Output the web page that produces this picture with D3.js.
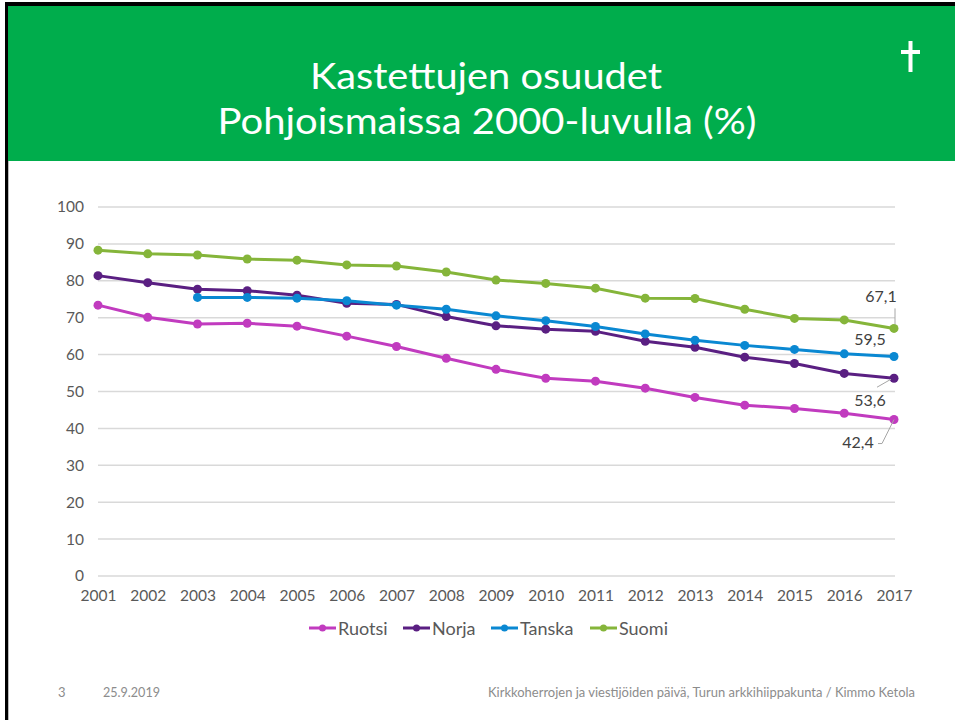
<!DOCTYPE html>
<html>
<head>
<meta charset="utf-8">
<script src="https://cdn.jsdelivr.net/npm/d3@7"></script>
<style>
  body { margin: 0; background: #fff; }
  svg { display: block; font-family: Lato, "Open Sans", sans-serif; }
</style>
</head>
<body>
<div id="slide"></div>
<script>
// data
const years = [2001, 2002, 2003, 2004, 2005, 2006, 2007, 2008, 2009, 2010, 2011, 2012, 2013, 2014, 2015, 2016, 2017];
const ruotsi = [73.4, 70.1, 68.3, 68.5, 67.7, 65.0, 62.2, 59.0, 56.0, 53.6, 52.8, 50.9, 48.4, 46.3, 45.4, 44.1, 42.4];
const norja  = [81.4, 79.5, 77.7, 77.3, 76.1, 73.9, 73.6, 70.3, 67.8, 66.9, 66.3, 63.6, 62.0, 59.3, 57.6, 54.9, 53.6];
const tanska = [null, null, 75.5, 75.5, 75.3, 74.6, 73.4, 72.3, 70.5, 69.2, 67.6, 65.6, 63.9, 62.5, 61.4, 60.2, 59.5];
const suomi  = [88.3, 87.3, 87.0, 85.9, 85.6, 84.3, 84.0, 82.4, 80.2, 79.3, 78.0, 75.3, 75.2, 72.3, 69.8, 69.4, 67.1];
const seriesNames = ["Ruotsi", "Norja", "Tanska", "Suomi"];
const colors = ["#c13bbf", "#5a1f82", "#0a88d2", "#85b53a"];
const yTicks = [0, 10, 20, 30, 40, 50, 60, 70, 80, 90, 100];
const titleLines = ["Kastettujen osuudet", "Pohjoismaissa 2000-luvulla (%)"];

const series = [ruotsi, norja, tanska, suomi].map((vals, i) => ({
    name: seriesNames[i],
    color: colors[i],
    values: years.map((yr, j) => ({ year: yr, v: vals[j] }))
}));

const W = 955, H = 720;
const svg = d3.select("#slide").append("svg").attr("width", W).attr("height", H);

// slide frame + header
svg.append("rect").attr("x", 5).attr("y", 2).attr("width", W - 5).attr("height", 4).attr("fill", "#000");
svg.append("rect").attr("x", 5).attr("y", 2).attr("width", 3).attr("height", H).attr("fill", "#000");
svg.append("rect").attr("x", 8).attr("y", 161).attr("width", 1).attr("height", H).attr("fill", "#bbb");
svg.append("rect").attr("x", 8).attr("y", 6).attr("width", W - 8).attr("height", 155).attr("fill", "#00ad4c");

// title
svg.append("text").attr("x", 486).attr("y", 89).attr("text-anchor", "middle")
    .attr("fill", "#fff").attr("font-size", 37)
    .attr("textLength", 352).attr("lengthAdjust", "spacingAndGlyphs")
    .text(titleLines[0]);
svg.append("text").attr("x", 487).attr("y", 134).attr("text-anchor", "middle")
    .attr("fill", "#fff").attr("font-size", 37)
    .attr("textLength", 539).attr("lengthAdjust", "spacingAndGlyphs")
    .text(titleLines[1]);

// dagger
svg.append("rect").attr("x", 908.5).attr("y", 41).attr("width", 4).attr("height", 31).attr("fill", "#fff");
svg.append("rect").attr("x", 901).attr("y", 50).attr("width", 19).attr("height", 4).attr("fill", "#fff");

// scales
const x = d3.scalePoint().domain(years).range([98, 894]);
const y = d3.scaleLinear().domain([0, 100]).range([576, 207]);

// grid
svg.append("g").selectAll("line").data(yTicks).join("line")
    .attr("x1", 98).attr("x2", 895)
    .attr("y1", d => y(d)).attr("y2", d => y(d))
    .attr("stroke", "#d9d9d9").attr("stroke-width", 1.5);

// axes
const yAxis = svg.append("g").attr("transform", "translate(84,0)")
    .call(d3.axisLeft(y).tickValues(yTicks).tickSize(0).tickPadding(0));
yAxis.select(".domain").remove();
yAxis.selectAll("text").attr("fill", "#595959").attr("font-size", 15.5).attr("font-family", "Lato, sans-serif");

const xAxis = svg.append("g").attr("transform", "translate(0,586)")
    .call(d3.axisBottom(x).tickSize(0).tickPadding(4));
xAxis.select(".domain").remove();
xAxis.selectAll("text").attr("fill", "#595959").attr("font-size", 15.5).attr("font-family", "Lato, sans-serif");

// lines
const line = d3.line().defined(d => d.v != null).x(d => x(d.year)).y(d => y(d.v));
const gs = svg.append("g").selectAll("g").data(series).join("g");
gs.append("path").attr("d", d => line(d.values))
    .attr("fill", "none").attr("stroke", d => d.color).attr("stroke-width", 3)
    .attr("stroke-linejoin", "round");
gs.each(function(s) {
    d3.select(this).selectAll("circle").data(s.values.filter(d => d.v != null)).join("circle")
        .attr("cx", d => x(d.year)).attr("cy", d => y(d.v)).attr("r", 4.5)
        .attr("fill", s.color);
});

// data labels for the last year
const last = years[years.length - 1];
const fmt = v => d3.format(".1f")(v).replace(".", ",");
const labelCfg = [
    { s: 0, dx: -36, dy: 23, lead: [[-16, 24], [-12, 24], [0, 0]] },
    { s: 1, dx: -24, dy: 23, lead: [[-17, 9], [-3, 1]] },
    { s: 2, dx: -24, dy: -16, lead: null },
    { s: 3, dx: -13, dy: -31, lead: [[1, -20], [1, -4]] }
];
labelCfg.forEach(c => {
    const v = series[c.s].values[years.length - 1].v;
    const px = x(last), py = y(v);
    svg.append("text").attr("x", px + c.dx).attr("y", py + c.dy + 5)
        .attr("text-anchor", "middle").attr("fill", "#404040").attr("font-size", 16)
        .text(fmt(v));
    if (c.lead) {
        svg.append("path")
            .attr("d", d3.line()(c.lead.map(p => [px + p[0], py + p[1]])))
            .attr("fill", "none").attr("stroke", "#a6a6a6").attr("stroke-width", 1);
    }
});

// legend
const legendX = [309, 403, 491, 590];
const lg = svg.append("g").selectAll("g").data(series).join("g")
    .attr("transform", (d, i) => `translate(${legendX[i]},628)`);
lg.append("line").attr("x1", 0).attr("x2", 27).attr("stroke", d => d.color).attr("stroke-width", 3);
lg.append("circle").attr("cx", 13.5).attr("r", 3.5).attr("fill", d => d.color);
lg.append("text").attr("x", 29).attr("y", 6.5).attr("fill", "#595959").attr("font-size", 18)
    .text(d => d.name);

// footer
svg.append("text").attr("x", 58).attr("y", 697).attr("fill", "#8c8c8c").attr("font-size", 13).text("3");
svg.append("text").attr("x", 103).attr("y", 697).attr("fill", "#8c8c8c").attr("font-size", 13)
    .attr("textLength", 57).attr("lengthAdjust", "spacingAndGlyphs").text("25.9.2019");
svg.append("text").attr("x", 915).attr("y", 697).attr("text-anchor", "end").attr("fill", "#8c8c8c")
    .attr("font-size", 13).attr("textLength", 427).attr("lengthAdjust", "spacingAndGlyphs")
    .text("Kirkkoherrojen ja viestijöiden päivä, Turun arkkihiippakunta / Kimmo Ketola");
</script>
</body>
</html>
